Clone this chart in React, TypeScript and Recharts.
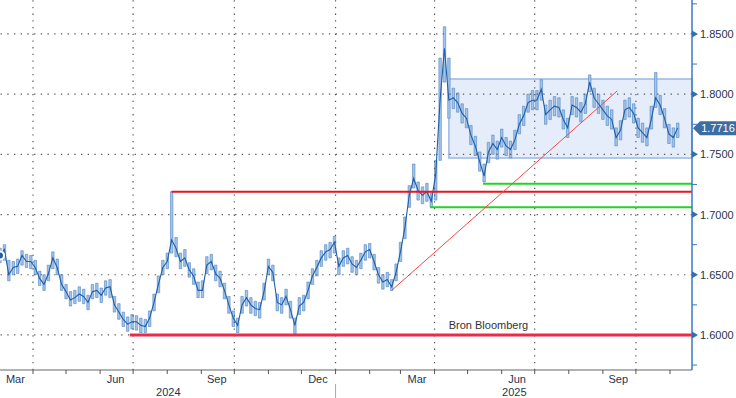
import { ComposedChart, Line, Bar, XAxis, YAxis, ReferenceLine, ReferenceArea, ReferenceDot } from 'recharts'

const FONT = '"Liberation Sans", Arial, sans-serif'
const START = Date.UTC(2024, 2, 2)
const dayOf = (y: number, m: number, d: number) => Math.round((Date.UTC(y, m - 1, d) - START) / 86400000)
const END_DAY = 629
const STEP = 4

// EUR/AUD style series, one bucket every 4 calendar days
const closes = [
  1.666, 1.671, 1.650, 1.656, 1.657, 1.666, 1.661, 1.661, 1.656, 1.647,
  1.642, 1.651, 1.664, 1.656, 1.642, 1.636, 1.629, 1.631, 1.634, 1.632,
  1.627, 1.636, 1.637, 1.633, 1.639, 1.640, 1.625, 1.619, 1.613, 1.609,
  1.611, 1.611, 1.608, 1.607, 1.614, 1.627, 1.642, 1.656, 1.661, 1.679,
  1.672, 1.661, 1.664, 1.654, 1.649, 1.637, 1.637, 1.658, 1.661, 1.651,
  1.647, 1.637, 1.625, 1.614, 1.608, 1.625, 1.631, 1.625, 1.622, 1.621,
  1.636, 1.657, 1.652, 1.627, 1.625, 1.632, 1.621, 1.608, 1.624, 1.627,
  1.637, 1.649, 1.656, 1.664, 1.669, 1.671, 1.677, 1.657, 1.664, 1.666,
  1.659, 1.656, 1.662, 1.669, 1.671, 1.661, 1.650, 1.644, 1.646, 1.640,
  1.652, 1.669, 1.689, 1.716, 1.730, 1.720, 1.716, 1.719, 1.711, 1.733,
  1.795, 1.838, 1.795, 1.797, 1.793, 1.784, 1.780, 1.766, 1.757, 1.744,
  1.732, 1.752, 1.759, 1.754, 1.764, 1.757, 1.754, 1.762, 1.775, 1.782,
  1.793, 1.795, 1.795, 1.804, 1.783, 1.787, 1.790, 1.789, 1.779, 1.772,
  1.791, 1.789, 1.785, 1.792, 1.810, 1.797, 1.792, 1.787, 1.782, 1.779,
  1.764, 1.770, 1.787, 1.789, 1.784, 1.772, 1.768, 1.764, 1.779, 1.797,
  1.791, 1.780, 1.767, 1.764, 1.772,
]
const highs = [
  1.672, 1.675, 1.662, 1.661, 1.663, 1.670, 1.667, 1.666, 1.662, 1.653,
  1.650, 1.658, 1.669, 1.663, 1.650, 1.642, 1.636, 1.637, 1.640, 1.638,
  1.633, 1.642, 1.643, 1.639, 1.645, 1.646, 1.632, 1.626, 1.619, 1.615,
  1.617, 1.616, 1.614, 1.613, 1.620, 1.634, 1.649, 1.662, 1.668, 1.719,
  1.681, 1.668, 1.671, 1.660, 1.655, 1.644, 1.645, 1.665, 1.667, 1.658,
  1.653, 1.643, 1.632, 1.620, 1.614, 1.632, 1.637, 1.631, 1.628, 1.627,
  1.643, 1.663, 1.658, 1.634, 1.631, 1.638, 1.628, 1.614, 1.631, 1.633,
  1.644, 1.655, 1.662, 1.670, 1.675, 1.677, 1.682, 1.664, 1.670, 1.672,
  1.665, 1.662, 1.668, 1.675, 1.676, 1.667, 1.656, 1.650, 1.652, 1.646,
  1.659, 1.677, 1.698, 1.724, 1.742, 1.727, 1.723, 1.726, 1.718, 1.745,
  1.830, 1.856, 1.830, 1.805, 1.801, 1.792, 1.788, 1.774, 1.765, 1.752,
  1.742, 1.760, 1.766, 1.761, 1.771, 1.764, 1.761, 1.770, 1.783, 1.790,
  1.800, 1.803, 1.803, 1.812, 1.791, 1.795, 1.798, 1.797, 1.787, 1.780,
  1.798, 1.797, 1.793, 1.800, 1.816, 1.805, 1.800, 1.795, 1.790, 1.787,
  1.772, 1.778, 1.795, 1.797, 1.792, 1.780, 1.776, 1.772, 1.790, 1.818,
  1.799, 1.788, 1.775, 1.772, 1.776,
]
const lows = [
  1.660, 1.662, 1.645, 1.650, 1.651, 1.658, 1.656, 1.655, 1.650, 1.641,
  1.637, 1.645, 1.655, 1.650, 1.637, 1.630, 1.624, 1.626, 1.628, 1.626,
  1.621, 1.630, 1.631, 1.627, 1.633, 1.631, 1.619, 1.613, 1.607, 1.603,
  1.605, 1.604, 1.602, 1.602, 1.607, 1.620, 1.635, 1.650, 1.655, 1.668,
  1.665, 1.655, 1.657, 1.648, 1.642, 1.631, 1.631, 1.651, 1.654, 1.645,
  1.640, 1.630, 1.618, 1.607, 1.602, 1.618, 1.624, 1.618, 1.616, 1.614,
  1.629, 1.650, 1.645, 1.620, 1.618, 1.625, 1.614, 1.601, 1.617, 1.620,
  1.630, 1.642, 1.649, 1.657, 1.662, 1.664, 1.668, 1.650, 1.657, 1.659,
  1.652, 1.650, 1.655, 1.662, 1.664, 1.654, 1.643, 1.638, 1.640, 1.637,
  1.645, 1.661, 1.680, 1.706, 1.722, 1.712, 1.709, 1.711, 1.706, 1.712,
  1.745, 1.810, 1.780, 1.788, 1.785, 1.776, 1.772, 1.758, 1.749, 1.736,
  1.727, 1.743, 1.750, 1.746, 1.756, 1.749, 1.747, 1.754, 1.767, 1.774,
  1.785, 1.787, 1.787, 1.795, 1.775, 1.779, 1.782, 1.781, 1.771, 1.764,
  1.783, 1.781, 1.777, 1.784, 1.802, 1.789, 1.784, 1.779, 1.774, 1.771,
  1.757, 1.762, 1.779, 1.781, 1.776, 1.764, 1.760, 1.757, 1.771, 1.789,
  1.783, 1.772, 1.759, 1.756, 1.764,
]
const LAST_PRICE = 1.7716

const MAJOR_TICKS = [1.6, 1.65, 1.7, 1.75, 1.8, 1.85]
const MINOR_TICKS = [1.575, 1.625, 1.675, 1.725, 1.775, 1.825, 1.875]

const QUARTER_STARTS = [
  dayOf(2024, 4, 1), dayOf(2024, 7, 1), dayOf(2024, 10, 1), dayOf(2025, 1, 1),
  dayOf(2025, 4, 1), dayOf(2025, 7, 1), dayOf(2025, 10, 1),
]
const MONTH_LABELS = [
  { day: dayOf(2024, 3, 16), text: 'Mar' },
  { day: dayOf(2024, 6, 15), text: 'Jun' },
  { day: dayOf(2024, 9, 15), text: 'Sep' },
  { day: dayOf(2024, 12, 16), text: 'Dec' },
  { day: dayOf(2025, 3, 16), text: 'Mar' },
  { day: dayOf(2025, 6, 15), text: 'Jun' },
  { day: dayOf(2025, 9, 15), text: 'Sep' },
]
const YEAR_START = dayOf(2025, 1, 1)
const YEAR_LABELS = [
  { day: YEAR_START / 2 + 0.5, text: '2024' },
  { day: (YEAR_START + END_DAY) / 2 + 0.5, text: '2025' },
]

const monthStarts: number[] = []
for (let m = 3; m < 23; m++) {
  monthStarts.push(dayOf(2024 + Math.floor(m / 12), (m % 12) + 1, 1))
}

const data = closes.map((c, i) => ({ day: i * STEP, close: c, range: [lows[i], highs[i]] }))

const X_TICKS = [...monthStarts, ...MONTH_LABELS.map(m => m.day), ...YEAR_LABELS.map(y => y.day)].sort((a, b) => a - b)

function XTick({ x, y, payload }: any) {
  const v = payload.value
  const month = MONTH_LABELS.find(m => m.day === v)
  const year = YEAR_LABELS.find(m => m.day === v)
  if (month) {
    return <text x={x} y={y + 13} textAnchor="middle" fontSize={11} fontFamily={FONT} fill="#26344f">{month.text}</text>
  }
  if (year) {
    return <text x={x} y={y + 26} textAnchor="middle" fontSize={11} fontFamily={FONT} fill="#26344f">{year.text}</text>
  }
  return (
    <g>
      <line x1={x} x2={x} y1={y} y2={y + 4} stroke="#555" strokeWidth={1} />
      {v === YEAR_START && <line x1={x} x2={x} y1={y + 14} y2={y + 28} stroke="#aaa" strokeWidth={1} />}
    </g>
  )
}

function YTick({ x, y, payload }: any) {
  const v = payload.value
  const major = MAJOR_TICKS.some(t => Math.abs(t - v) < 1e-6)
  if (!major) {
    return <line x1={x} x2={x + 5} y1={y} y2={y} stroke="#3a78c8" strokeWidth={1} />
  }
  return (
    <g>
      <polygon points={`${x},${y - 3.5} ${x + 6},${y} ${x},${y + 3.5}`} fill="#2f6db5" />
      <text x={x + 8} y={y + 4} fontSize={11} fontFamily={FONT} fill="#26344f">{v.toFixed(4)}</text>
    </g>
  )
}

function PriceTag({ viewBox }: any) {
  const x = viewBox.x + viewBox.width
  const y = viewBox.y
  return (
    <g>
      <polygon points={`${x + 1},${y} ${x + 8},${y - 7} ${x + 44},${y - 7} ${x + 44},${y + 7} ${x + 8},${y + 7}`} fill="#3d6e9f" />
      <text x={x + 26} y={y + 4} textAnchor="middle" fontSize={11} fontFamily={FONT} fill="#fff">{LAST_PRICE.toFixed(4)}</text>
    </g>
  )
}

const grid = { stroke: '#555', strokeWidth: 1.2, strokeDasharray: '1.3 5.4' }

export default function App() {
  return (
    <div style={{ position: 'absolute', left: 0, top: 0, width: 736, height: 398, background: '#fff' }}>
      <ComposedChart width={736} height={398} data={data} margin={{ top: 0, right: 0, bottom: 0, left: 0 }}>
        <XAxis
          dataKey="day"
          type="number"
          domain={[0, END_DAY]}
          ticks={X_TICKS}
          interval={0}
          tick={<XTick />}
          tickLine={false}
          tickSize={0}
          tickMargin={0}
          height={28}
          axisLine={{ stroke: '#666', strokeWidth: 1 }}
          allowDataOverflow
        />
        <YAxis
          orientation="right"
          type="number"
          domain={[1.5709, 1.8782]}
          ticks={[...MAJOR_TICKS, ...MINOR_TICKS].sort((a, b) => a - b)}
          interval={0}
          tick={<YTick />}
          tickLine={false}
          tickSize={0}
          tickMargin={0}
          width={44}
          axisLine={{ stroke: '#3a78c8', strokeWidth: 1.5 }}
          allowDataOverflow
        />
        <ReferenceArea x1={408} x2={END_DAY} y1={1.747} y2={1.8126} fill="#dce7f8" fillOpacity={0.75} stroke="#9bb8e6" strokeWidth={1.5} />
        {MAJOR_TICKS.map(t => <ReferenceLine key={'h' + t} y={t} {...grid} />)}
        {QUARTER_STARTS.map(d => <ReferenceLine key={'v' + d} x={d} {...grid} />)}
        <Bar dataKey="range" barSize={2.5} fill="#a3c3e8" stroke="#3a76bb" strokeWidth={0.5} isAnimationActive={false} />
        <Line dataKey="close" type="linear" stroke="#1f5ea8" strokeWidth={1.1} dot={false} isAnimationActive={false} />
        <ReferenceLine segment={[{ x: dayOf(2024, 6, 28), y: 1.6 }, { x: END_DAY, y: 1.6 }]} stroke="#f0284a" strokeWidth={3} />
        <ReferenceLine segment={[{ x: dayOf(2024, 8, 5), y: 1.719 }, { x: END_DAY, y: 1.719 }]} stroke="#e8141e" strokeWidth={2} />
        <ReferenceLine segment={[{ x: 391, y: 1.706 }, { x: END_DAY, y: 1.706 }]} stroke="#22d422" strokeWidth={2} />
        <ReferenceLine segment={[{ x: 439, y: 1.7255 }, { x: END_DAY, y: 1.7255 }]} stroke="#22d422" strokeWidth={2} />
        <ReferenceLine segment={[{ x: 356, y: 1.637 }, { x: 561, y: 1.8027 }]} stroke="#f04848" strokeWidth={1} />
        <ReferenceDot x={444} y={1.6083} r={0} fill="none" stroke="none"
          label={{ value: 'Bron Bloomberg', position: 'center', fontSize: 11, fontFamily: FONT, fill: '#333' }} />
        <ReferenceLine y={LAST_PRICE} stroke="none" label={<PriceTag />} />
      </ComposedChart>
    </div>
  )
}
